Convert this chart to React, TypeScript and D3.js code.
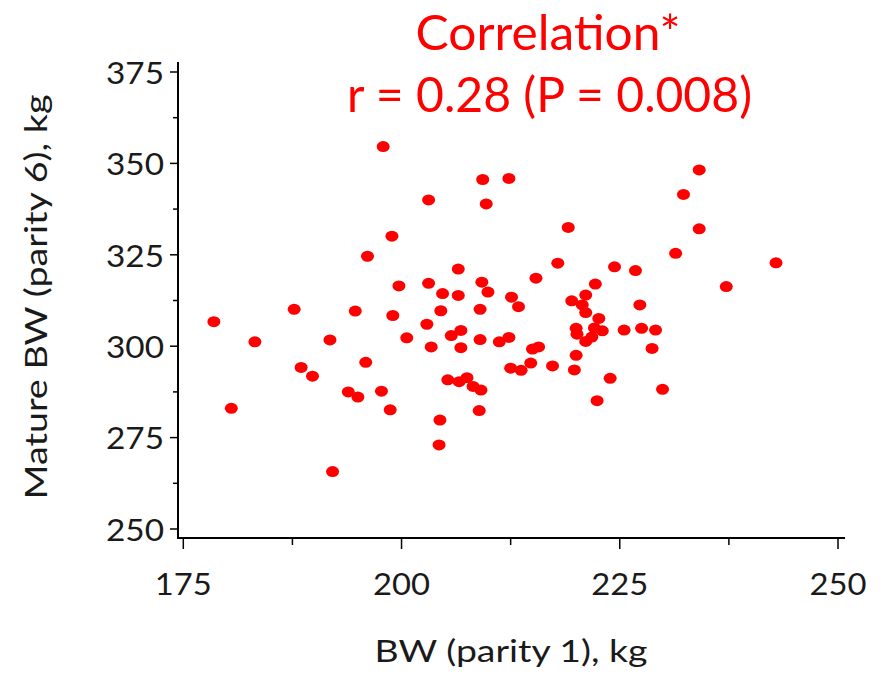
import React from "react";
import * as d3 from "d3";

const bwParity1: number[] = [
  178.5, 180.5, 183.2, 187.7, 188.5, 189.8, 191.8, 192.1, 193.9, 195.0,
  194.7, 195.9, 196.1, 197.9, 197.7, 198.7, 199.0, 198.9, 199.7, 200.6,
  203.1, 203.1, 202.9, 203.4, 204.4, 204.3, 204.5, 204.7, 205.3, 205.7,
  206.5, 206.5, 206.6, 206.8, 206.8, 207.5, 208.2, 209.1, 208.9, 209.0,
  209.0, 209.2, 209.3, 209.7, 209.9, 211.2, 212.3, 212.3, 212.6, 213.4,
  212.5, 213.7, 214.8, 215.0, 215.7, 215.4, 217.3, 217.9, 219.1, 219.5,
  219.8, 220.0, 220.0, 220.1, 220.7, 221.1, 221.1, 221.1, 221.8, 222.1,
  222.2, 222.4, 222.6, 223.0, 223.9, 224.4, 225.5, 226.8, 227.3, 227.5,
  228.7, 229.1, 229.9, 231.4, 232.3, 234.1, 234.1, 237.2, 242.9,
];

const bwParity6: number[] = [
  306.7, 283.0, 301.2, 310.1, 294.2, 291.8, 301.7, 265.7, 287.5, 286.1,
  309.6, 295.6, 324.6, 354.6, 287.7, 282.6, 308.4, 330.1, 316.5, 302.3,
  340.0, 317.2, 306.0, 299.8, 279.8, 273.0, 309.7, 314.4, 290.8, 302.9,
  321.1, 313.9, 290.3, 299.6, 304.3, 291.4, 289.0, 288.0, 282.4, 310.1,
  301.8, 317.5, 345.6, 338.9, 314.8, 301.2, 302.4, 345.9, 313.4, 310.8,
  294.0, 293.4, 295.4, 299.2, 299.8, 318.6, 294.6, 322.7, 332.5, 312.4,
  293.5, 297.5, 304.9, 303.3, 311.3, 314.0, 309.2, 301.3, 302.5, 305.0,
  317.0, 285.1, 307.6, 304.2, 291.2, 321.7, 304.4, 320.7, 311.3, 304.9,
  299.4, 304.4, 288.2, 325.4, 341.5, 348.2, 332.1, 316.3, 322.8,
];

const xTickValues: number[] = [175, 200, 225, 250];
const xMinorTicks: number[] = [187.5, 212.5, 237.5];
const yTickValues: number[] = [250, 275, 300, 325, 350, 375];
const yMinorTicks: number[] = [262.5, 287.5, 312.5, 337.5, 362.5];

const titleLine1 = "Correlation*";
const titleLine2 = "r = 0.28 (P = 0.008)";
const xAxisTitle = "BW (parity 1), kg";
const yAxisTitle = "Mature BW (parity 6), kg";

const FONT = "Lato, 'Open Sans', sans-serif";

export default function App() {
  const W = 887;
  const H = 674;
  const x = d3.scaleLinear().domain([175, 250]).range([183.3, 838]);
  const y = d3.scaleLinear().domain([250, 375]).range([529, 72]);
  const axisX = 178;
  const axisY = 538;
  const points = bwParity1.map((v, i) => ({ x: v, y: bwParity6[i] }));
  const textColor = "#1a1a1a";

  return (
    <svg
      width={W}
      height={H}
      style={{ position: "absolute", left: 0, top: 0, background: "#fff" }}
    >
      <rect x={0} y={0} width={W} height={H} fill="#ffffff" />
      {/* axes */}
      <line x1={axisX} y1={62} x2={axisX} y2={axisY} stroke="#000" strokeWidth={2} />
      <line x1={axisX - 1} y1={axisY} x2={845} y2={axisY} stroke="#000" strokeWidth={2} />
      {yTickValues.map((t) => (
        <g key={"yt" + t}>
          <line x1={axisX - 8} x2={axisX} y1={y(t)} y2={y(t)} stroke="#000" strokeWidth={1.5} />
          <text
            x={164}
            y={y(t)}
            dy="0.38em"
            textAnchor="end"
            fontFamily={FONT}
            fontSize={31}
            fill={textColor}
            textLength={58}
            lengthAdjust="spacingAndGlyphs"
          >
            {t}
          </text>
        </g>
      ))}
      {yMinorTicks.map((t) => (
        <line key={"ym" + t} x1={axisX - 5} x2={axisX} y1={y(t)} y2={y(t)} stroke="#000" strokeWidth={1.5} />
      ))}
      {xTickValues.map((t) => (
        <g key={"xt" + t}>
          <line x1={x(t)} x2={x(t)} y1={axisY} y2={axisY + 11} stroke="#000" strokeWidth={1.5} />
          <text
            x={x(t)}
            y={595}
            textAnchor="middle"
            fontFamily={FONT}
            fontSize={31}
            fill={textColor}
            textLength={57}
            lengthAdjust="spacingAndGlyphs"
          >
            {t}
          </text>
        </g>
      ))}
      {xMinorTicks.map((t) => (
        <line key={"xm" + t} x1={x(t)} x2={x(t)} y1={axisY} y2={axisY + 7} stroke="#000" strokeWidth={1.5} />
      ))}
      {/* points */}
      {points.map((p, i) => (
        <ellipse key={i} cx={x(p.x)} cy={y(p.y)} rx={6.5} ry={5.5} fill="#ff0000" />
      ))}
      {/* titles */}
      <text
        x={548}
        y={50}
        textAnchor="middle"
        fontFamily={FONT}
        fontSize={48}
        fill="#ff0000"
        textLength={265}
        lengthAdjust="spacingAndGlyphs"
      >
        {titleLine1}
      </text>
      <text
        x={549.5}
        y={112}
        textAnchor="middle"
        fontFamily={FONT}
        fontSize={48}
        fill="#ff0000"
        textLength={405}
        lengthAdjust="spacingAndGlyphs"
      >
        {titleLine2}
      </text>
      <text
        x={511}
        y={662}
        textAnchor="middle"
        fontFamily={FONT}
        fontSize={30}
        fill={textColor}
        textLength={273}
        lengthAdjust="spacingAndGlyphs"
      >
        {xAxisTitle}
      </text>
      <text
        transform={`translate(47, 297) rotate(-90)`}
        textAnchor="middle"
        fontFamily={FONT}
        fontSize={30}
        fill={textColor}
        textLength={405}
        lengthAdjust="spacingAndGlyphs"
      >
        {yAxisTitle}
      </text>
    </svg>
  );
}
